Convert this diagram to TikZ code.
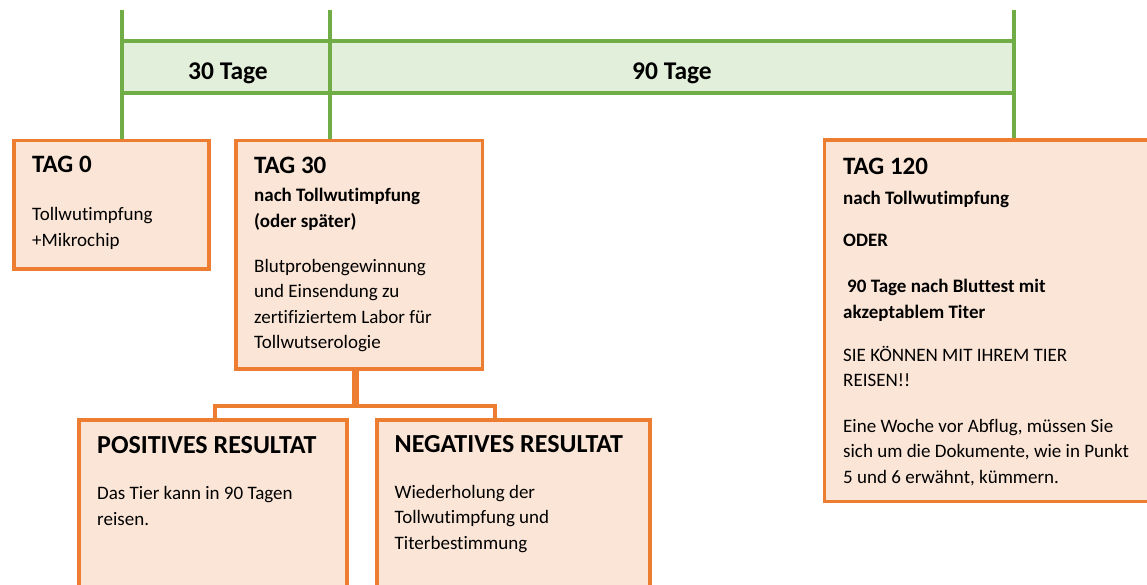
\documentclass[tikz,border=0pt]{standalone}
\usepackage{fontspec}
\setmainfont{Carlito}[Ligatures=NoCommon]
\usetikzlibrary{positioning}

\definecolor{tgreen}{HTML}{70AD47}
\definecolor{bandfill}{HTML}{E2EFDA}
\definecolor{borange}{HTML}{ED7D31}
\definecolor{boxfill}{HTML}{FBE5D6}

\begin{document}
\begin{tikzpicture}[
x=1pt, y=-1pt,
tline/.style={draw=tgreen, line width=4.5pt},
box/.style={draw=borange,
fill=boxfill,
rectangle,
line width=3.5pt,
anchor=north west,
inner sep=0pt},
head/.style={font=\fontsize{25}{30}\selectfont\bfseries, anchor=base west, inner sep=0pt},
reshead/.style={font=\fontsize{26}{30}\selectfont\bfseries, anchor=base west, inner sep=0pt},
sub/.style={font=\fontsize{19}{25.5}\selectfont\bfseries, align=left, anchor=base west, inner sep=0pt},
body/.style={font=\fontsize{19}{25.5}\selectfont, align=left, anchor=base west, inner sep=0pt},
span/.style={font=\fontsize{25.5}{30}\selectfont\bfseries, anchor=base, inner sep=0pt},
stem/.style={draw=borange, line width=7pt},
branch/.style={draw=borange, line width=4pt}
]
\clip (0,0) rectangle (1147,585);

% timeline
\coordinate (m0) at (122,10);
\coordinate (m30) at (330,10);
\coordinate (m120) at (1014,10);
\fill[bandfill] (122,41) rectangle (1014,93);
\draw[tline] (m0 |- 0,41) -- (m120 |- 0,41);
\draw[tline] (m0 |- 0,93) -- (m120 |- 0,93);
\node[span] (d30) at (228,80) {30 Tage};
\node[span] (d90) at (672,80) {90 Tage};

% boxes
\node[box, minimum width=195, minimum height=128] (tag0) at (12,139) {};
\node[box, minimum width=246.5, minimum height=228] (tag30) at (234,139) {};
\node[box, minimum width=340, minimum height=361] (tag120) at (822.5,138.5) {};
\node[box, minimum width=268, minimum height=200] (pos) at (77,418) {};
\node[box, minimum width=273, minimum height=200] (neg) at (375,418) {};

\draw[tline] (m0) -- (m0 |- tag0.north);
\draw[tline] (m30) -- (m30 |- tag30.north);
\draw[tline] (m120) -- (m120 |- tag120.north);

% fork below TAG 30
\coordinate (fork) at (355,406);
\coordinate (pl) at (215,406);
\coordinate (nr) at (495,406);
\draw[stem] (fork |- tag30.south) -- (fork);
\draw[branch] (pl |- pos.north) -- (pl) -- (nr) -- (nr |- neg.north);

% texts (base = last line)
\node[head] (tag0h) at ([shift={(20,34)}]tag0.north west) {TAG 0};
\node[body] (tag0b) at ([shift={(20,107.5)}]tag0.north west) {Tollwutimpfung\\+Mikrochip};

\node[head] (tag30h) at ([shift={(20,35)}]tag30.north west) {TAG 30};
\node[sub] (tag30s) at ([shift={(20,88.5)}]tag30.north west) {nach Tollwutimpfung\\(oder später)};
\node[body] (tag30b) at ([shift={(20,209.5)}]tag30.north west) {Blutprobengewinnung\\und Einsendung zu\\zertifiziertem Labor für\\Tollwutserologie};

\node[head] (tag120h) at ([shift={(20.5,36)}]tag120.north west) {TAG 120};
\node[sub] (tag120s) at ([shift={(20.5,66)}]tag120.north west) {nach Tollwutimpfung};
\node[sub] (oder) at ([shift={(20.5,108.5)}]tag120.north west) {ODER};
\node[sub] (titer) at ([shift={(20.5,179.5)}]tag120.north west) {\hspace*{4pt}90 Tage nach Bluttest mit\\akzeptablem Titer};
\node[body] (reisen) at ([shift={(20.5,248)}]tag120.north west) {SIE KÖNNEN MIT IHREM TIER\\REISEN!!};
\node[body] (woche) at ([shift={(20.5,344.5)}]tag120.north west) {Eine Woche vor Abflug, müssen Sie\\sich um die Dokumente, wie in Punkt\\5 und 6 erwähnt, kümmern.};

\node[reshead] (posh) at ([shift={(20,35)}]pos.north west) {POSITIVES RESULTAT};
\node[body] (posb) at ([shift={(20,107)}]pos.north west) {Das Tier kann in 90 Tagen\\reisen.};

\node[reshead] (negh) at ([shift={(19.5,34)}]neg.north west) {NEGATIVES RESULTAT};
\node[body] (negb) at ([shift={(19.5,131)}]neg.north west) {Wiederholung der\\Tollwutimpfung und\\Titerbestimmung};

\end{tikzpicture}
\end{document}
